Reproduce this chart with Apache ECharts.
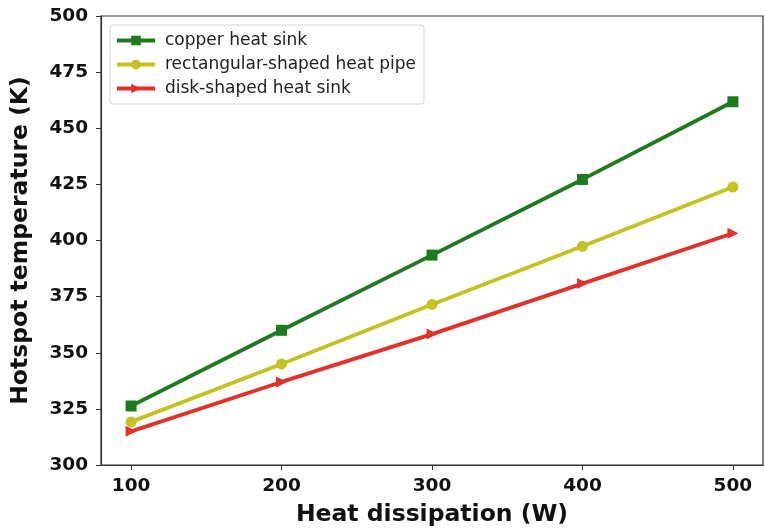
<!DOCTYPE html>
<html>
<head>
<meta charset="utf-8">
<script src="https://cdn.jsdelivr.net/npm/echarts@6/dist/echarts.min.js"></script>
<style>
  html, body { margin: 0; padding: 0; background: #fff; }
  #chart { width: 765px; height: 532px; }
</style>
</head>
<body>
<div id="chart"></div>
<script>
// data
const heatLoads = [100, 200, 300, 400, 500];
const copperSink = [326.3, 360.0, 393.5, 427.2, 461.8];
const rectPipe = [319.2, 345.0, 371.5, 397.4, 423.8];
const diskSink = [315.0, 337.0, 358.3, 380.8, 403.2];
const yTicks = [300, 325, 350, 375, 400, 425, 450, 475, 500];

const seriesNames = ['copper heat sink', 'rectangular-shaped heat pipe', 'disk-shaped heat sink'];
const seriesColors = ['#1c7c1c', '#c2c220', '#e33129'];
const seriesSymbols = ['rect', 'circle', 'triangle'];

function pairs(vals) {
  return heatLoads.map((x, i) => [x, vals[i]]);
}

const chart = echarts.init(document.getElementById('chart'));

const font = 'DejaVu Sans';

chart.setOption({
  animation: false,
  backgroundColor: '#fff',
  grid: {
    left: 101, right: 2, top: 16, bottom: 66,
    show: true, borderColor: '#333', borderWidth: 1.2
  },
  legend: {
    orient: 'vertical',
    left: 110, top: 25,
    padding: [7, 8, 7, 5],
    itemGap: 7,
    itemWidth: 38,
    itemHeight: 12,
    backgroundColor: '#fff',
    borderColor: '#d6d6d6',
    borderWidth: 1,
    borderRadius: 3,
    lineStyle: { width: 4 },
    textStyle: { fontFamily: font, fontSize: 17, color: '#222', padding: [0, 0, 0, 5] },
    data: seriesNames
  },
  xAxis: {
    type: 'value',
    min: 80, max: 520,
    name: 'Heat dissipation (W)',
    nameLocation: 'middle',
    nameGap: 38,
    nameTextStyle: { fontFamily: font, fontSize: 23.5, fontWeight: 'bold', color: '#111' },
    axisLine: { show: true, lineStyle: { color: '#333', width: 1.2 } },
    axisTick: { show: true, length: 5, customValues: heatLoads, lineStyle: { color: '#333' } },
    axisLabel: {
      fontFamily: font, fontSize: 18.5, fontWeight: 'bold', color: '#111', margin: 12,
      customValues: heatLoads
    },
    splitLine: { show: false }
  },
  yAxis: {
    type: 'value',
    min: yTicks[0], max: yTicks[yTicks.length - 1],
    interval: 25,
    name: 'Hotspot temperature (K)',
    nameLocation: 'middle',
    nameGap: 68,
    nameTextStyle: { fontFamily: font, fontSize: 23.5, fontWeight: 'bold', color: '#111' },
    axisLine: { show: true, lineStyle: { color: '#333', width: 1.2 } },
    axisTick: { show: true, length: 5, lineStyle: { color: '#333' } },
    axisLabel: { fontFamily: font, fontSize: 18.5, fontWeight: 'bold', color: '#111', margin: 13 },
    splitLine: { show: false }
  },
  series: [copperSink, rectPipe, diskSink].map((vals, i) => ({
    name: seriesNames[i],
    type: 'line',
    data: pairs(vals),
    symbol: seriesSymbols[i],
    symbolSize: 11,
    symbolRotate: i === 2 ? -90 : 0,
    showSymbol: true,
    color: seriesColors[i],
    lineStyle: { width: 3.8, color: seriesColors[i] },
    itemStyle: { color: seriesColors[i] },
    z: 3 - i
  }))
});
</script>
</body>
</html>
